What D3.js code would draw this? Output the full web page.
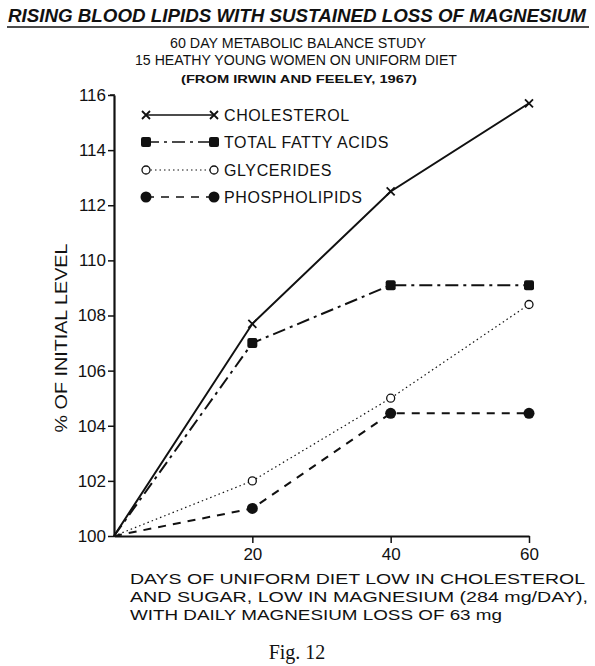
<!DOCTYPE html>
<html>
<head>
<meta charset="utf-8">
<script src="https://cdn.jsdelivr.net/npm/d3@7"></script>
<style>
  body { margin: 0; background: #fff; }
  svg { display: block; }
  text { font-family: 'Liberation Sans', Arial, sans-serif; fill: #111; }
</style>
</head>
<body>
<div id="chart"></div>
<script>
  // data
  var days = [0, 20, 40, 60];
  var cholesterol = [100, 107.7, 112.5, 115.7];
  var fattyAcids = [100, 107.0, 109.1, 109.1];
  var glycerides = [100, 102.0, 105.0, 108.4];
  var phospholipids = [100, 101.0, 104.45, 104.45];
  var yTicks = [100, 102, 104, 106, 108, 110, 112, 114, 116];
  var xTicks = [20, 40, 60];

  var series = [
    { name: 'CHOLESTEROL', values: cholesterol, dash: null, marker: 'x' },
    { name: 'TOTAL FATTY ACIDS', values: fattyAcids, dash: '13,5,3,5', marker: 'square' },
    { name: 'GLYCERIDES', values: glycerides, dash: '1.5,3', marker: 'open' },
    { name: 'PHOSPHOLIPIDS', values: phospholipids, dash: '8,7', marker: 'dot' }
  ];

  var width = 595, height = 666;
  var svg = d3.select('#chart').append('svg')
      .attr('width', width)
      .attr('height', height);

  var x = d3.scaleLinear().domain([0, 60]).range([114, 529]);
  var y = d3.scaleLinear().domain([100, 116]).range([536, 95]);

  // titles
  svg.append('text')
      .attr('x', 297).attr('y', 22)
      .attr('text-anchor', 'middle')
      .attr('textLength', 578).attr('lengthAdjust', 'spacingAndGlyphs')
      .style('font-size', '18px').style('font-weight', 'bold').style('font-style', 'italic')
      .text('RISING BLOOD LIPIDS WITH SUSTAINED LOSS OF MAGNESIUM');
  svg.append('line')
      .attr('x1', 7).attr('x2', 589).attr('y1', 27).attr('y2', 27)
      .attr('stroke', '#111').attr('stroke-width', 1.5);

  svg.append('text')
      .attr('x', 298).attr('y', 48)
      .attr('text-anchor', 'middle')
      .attr('textLength', 256).attr('lengthAdjust', 'spacingAndGlyphs')
      .style('font-size', '15px')
      .text('60 DAY METABOLIC BALANCE STUDY');
  svg.append('text')
      .attr('x', 296).attr('y', 65)
      .attr('text-anchor', 'middle')
      .attr('textLength', 322).attr('lengthAdjust', 'spacingAndGlyphs')
      .style('font-size', '15px')
      .text('15 HEATHY YOUNG WOMEN ON UNIFORM DIET');
  svg.append('text')
      .attr('x', 299).attr('y', 83)
      .attr('text-anchor', 'middle')
      .attr('textLength', 236).attr('lengthAdjust', 'spacingAndGlyphs')
      .style('font-size', '10px').style('font-weight', 'bold')
      .text('(FROM IRWIN AND FEELEY, 1967)');

  // axes
  var yAxis = d3.axisLeft(y).tickValues(yTicks).tickSizeInner(6).tickSizeOuter(0).tickPadding(2)
      .tickFormat(d3.format('d'));
  var gy = svg.append('g').attr('transform', 'translate(' + x(0) + ',0)').call(yAxis);

  var xAxis = d3.axisBottom(x).tickValues(xTicks).tickSizeInner(7).tickSizeOuter(0).tickPadding(5);
  var gx = svg.append('g').attr('transform', 'translate(0,' + y(100) + ')').call(xAxis);

  [gx, gy].forEach(function (g) {
    g.select('.domain').attr('stroke', '#111').attr('stroke-width', 2.2);
    g.selectAll('.tick line').attr('stroke', '#111').attr('stroke-width', 1.5);
    g.selectAll('.tick text').style('font-size', '17px').style('font-family', "'Liberation Sans', Arial, sans-serif").attr('fill', '#111');
  });

  // small hook at the top of the y axis
  svg.append('line')
      .attr('x1', x(0) - 4).attr('x2', x(0) + 1)
      .attr('y1', y(116)).attr('y2', y(116))
      .attr('stroke', '#111').attr('stroke-width', 1.5);

  svg.append('text')
      .attr('transform', 'translate(67,338) rotate(-90)')
      .attr('text-anchor', 'middle')
      .attr('textLength', 189).attr('lengthAdjust', 'spacingAndGlyphs')
      .style('font-size', '16px')
      .text('% OF INITIAL LEVEL');

  var xTitle = [
    ['DAYS OF UNIFORM DIET LOW IN CHOLESTEROL', 455],
    ['AND SUGAR, LOW IN MAGNESIUM (284 mg/DAY),', 458],
    ['WITH DAILY MAGNESIUM LOSS OF 63 mg', 372]
  ];
  svg.selectAll('.xtitle')
    .data(xTitle)
    .enter()
    .append('text')
      .attr('class', 'xtitle')
      .attr('x', 130)
      .attr('y', function (d, i) { return 584 + i * 18; })
      .attr('textLength', function (d) { return d[1]; })
      .attr('lengthAdjust', 'spacingAndGlyphs')
      .style('font-size', '15.5px')
      .text(function (d) { return d[0]; });

  svg.append('text')
      .attr('x', 297).attr('y', 659)
      .attr('text-anchor', 'middle')
      .style('font-family', "'Liberation Serif', 'DejaVu Serif', serif")
      .style('font-size', '20px')
      .text('Fig. 12');

  // lines
  var line = d3.line()
      .x(function (d, i) { return x(days[i]); })
      .y(function (d) { return y(d); });

  function drawMarker(g, kind, cx, cy) {
    if (kind === 'x') {
      g.append('path')
        .attr('d', 'M' + (cx - 4) + ',' + (cy - 4) + 'L' + (cx + 4) + ',' + (cy + 4) +
                   'M' + (cx - 4) + ',' + (cy + 4) + 'L' + (cx + 4) + ',' + (cy - 4))
        .attr('stroke', '#111').attr('stroke-width', 1.8).attr('fill', 'none');
    } else if (kind === 'square') {
      g.append('rect')
        .attr('x', cx - 5).attr('y', cy - 5).attr('width', 10).attr('height', 10)
        .attr('rx', 2).attr('fill', '#111');
    } else if (kind === 'open') {
      g.append('circle')
        .attr('cx', cx).attr('cy', cy).attr('r', 4)
        .attr('fill', '#fff').attr('stroke', '#111').attr('stroke-width', 1.3);
    } else {
      g.append('circle')
        .attr('cx', cx).attr('cy', cy).attr('r', 5.5).attr('fill', '#111');
    }
  }

  series.forEach(function (s) {
    var g = svg.append('g');
    g.append('path')
      .datum(s.values)
      .attr('d', line)
      .attr('fill', 'none')
      .attr('stroke', '#111')
      .attr('stroke-width', s.marker === 'open' ? 1.2 : 2)
      .attr('stroke-dasharray', s.dash);
    s.values.forEach(function (v, i) {
      if (i === 0) return;
      drawMarker(g, s.marker, x(days[i]), y(v));
    });
  });

  // legend
  var legendRows = [115, 142, 170, 197];
  series.forEach(function (s, i) {
    var g = svg.append('g');
    var ly = legendRows[i];
    g.append('line')
      .attr('x1', 146).attr('x2', 214).attr('y1', ly).attr('y2', ly)
      .attr('stroke', '#111')
      .attr('stroke-width', s.marker === 'open' ? 1.2 : 1.5)
      .attr('stroke-dasharray', s.dash);
    drawMarker(g, s.marker, 146, ly);
    drawMarker(g, s.marker, 214, ly);
    g.append('text')
      .attr('x', 224).attr('y', ly + 6)
      .style('font-size', '16px')
      .style('letter-spacing', '0.6px')
      .text(s.name);
  });
</script>
</body>
</html>
